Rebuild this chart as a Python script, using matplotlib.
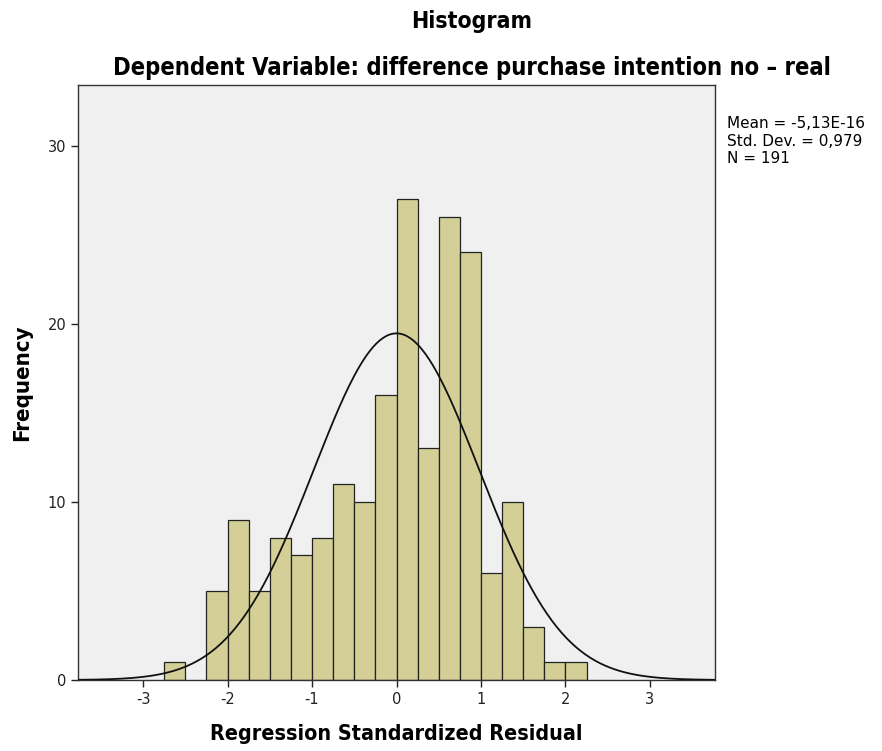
import numpy as np
import matplotlib.pyplot as plt
from matplotlib import font_manager

# bin edges (width 0.25) and counts
bin_left = [-2.75, -2.5, -2.25, -2.0, -1.75, -1.5, -1.25, -1.0, -0.75, -0.5,
            -0.25, 0.0, 0.25, 0.5, 0.75, 1.0, 1.25, 1.5, 1.75, 2.0]
counts = [1, 0, 5, 9, 5, 8, 7, 8, 11, 10,
          16, 27, 13, 26, 24, 6, 10, 3, 1, 1]
bin_width = 0.25

mean = -5.13e-16
std = 0.979
n = 191

x_ticks = [-3, -2, -1, 0, 1, 2, 3]
y_ticks = [0, 10, 20, 30]

# use a condensed face for titles when one is installed (SPSS uses a narrow font)
condensed = any(f.name == 'DejaVu Sans' and 'condensed' in str(f.stretch)
                for f in font_manager.fontManager.ttflist)
stretch = 'condensed' if condensed else 'normal'
k = 1.1 if condensed else 1.0
plt.rcParams['font.family'] = ['DejaVu Sans']

fig = plt.figure(figsize=(8.82, 7.51), dpi=100)
ax = fig.add_axes([0.0884, 0.0945, 0.7223, 0.7923])
ax.set_facecolor('#f0f0f0')

bars = [(l, c) for l, c in zip(bin_left, counts) if c > 0]
ax.bar([b[0] for b in bars], [b[1] for b in bars], width=bin_width, align='edge',
       color='#d3cf97', edgecolor='#222222', linewidth=0.9, zorder=2)

# normal curve scaled to counts
xs = np.linspace(-3.8, 3.8, 400)
ys = n * bin_width / (std * np.sqrt(2 * np.pi)) * np.exp(-0.5 * ((xs - mean) / std) ** 2)
ax.plot(xs, ys, color='#111111', linewidth=1.3, zorder=3)

ax.set_xlim(-3.77, 3.77)
ax.set_ylim(0, 33.4)
ax.set_xticks(x_ticks)
ax.set_xticklabels([str(t) for t in x_ticks])
ax.set_yticks(y_ticks)
ax.tick_params(axis='both', labelsize=10.5, length=5, width=1, color='#222222',
               labelcolor='#222222')
for s in ax.spines.values():
    s.set_color('#333333')
    s.set_linewidth(1)

ax.set_xlabel('Regression Standardized Residual', fontsize=14 * k, fontweight='bold',
              fontstretch=stretch, labelpad=12)
ax.set_ylabel('Frequency', fontsize=14.5 * k, fontweight='bold', fontstretch=stretch,
              labelpad=11)

fig.text(0.535, 0.971, 'Histogram', ha='center', va='center', fontsize=15 * k,
         fontweight='bold', fontstretch=stretch)
fig.text(0.535, 0.909, 'Dependent Variable: difference purchase intention no \u2013 real',
         ha='center', va='center', fontsize=15.5 * k, fontweight='bold', fontstretch=stretch)

fig.text(0.824, 0.845, 'Mean = -5,13E-16\nStd. Dev. = 0,979\nN = 191',
         ha='left', va='top', fontsize=11, linespacing=1.2)

fig.savefig('out.png', dpi=100)
